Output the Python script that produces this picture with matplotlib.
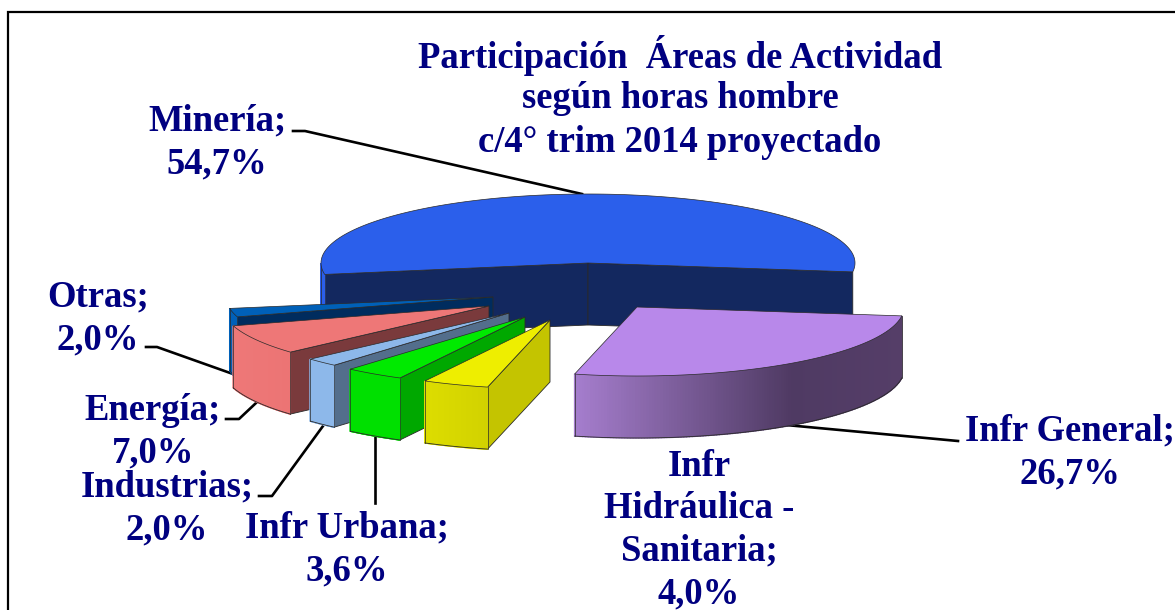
import numpy as np
import matplotlib
matplotlib.use('Agg')
import matplotlib.pyplot as plt
from matplotlib.colors import LinearSegmentedColormap
from matplotlib.patches import Polygon

title_lines = ['Participación  Áreas de Actividad', 'según horas hombre', 'c/4° trim 2014 proyectado']

# clockwise from the Infr General slice
names = ['Infr General', 'Infr Hidráulica - Sanitaria', 'Infr Urbana', 'Industrias', 'Energía', 'Otras', 'Minería']
shares = [26.7, 4.0, 3.6, 2.0, 7.0, 2.0, 54.7]

# styles, same order
apex_x = [637, 550, 525, 509, 489, 493, 588]
apex_y = [307, 320, 317, 313, 306, 297, 263]
top_col = ['#b888ea', '#eeee00', '#00ea00', '#8db8ea', '#ee7777', '#0060b8', '#2b5feb']
wall_col = [['#a67ece', '#7a5c98', '#4f3a63', '#553e68'], ['#dddd00', '#d2d200'], ['#00e000', '#00e000'],
            ['#8db8ea', '#8db8ea'], ['#ee7878', '#ec7474'], ['#0060b8', '#0060b8'], ['#2b5feb', '#2b5feb']]
side_col = ['#553e68', '#c4c400', '#00a800', '#536e8c', '#7a3a3c', '#002c5e', '#13285f']

rx, ry = 267, 69
depth = 62
start = -7.4
navy = '#000080'
edge = '#2a2a2a'

# label text lines with their centres
label_x = [1070, 699, 347, 167, 153, 98, 217]
label_y = [431, 466, 528, 487, 410, 297, 121]
label_breaks = [['Infr General;'], ['Infr', 'Hidráulica -', 'Sanitaria;'], ['Infr Urbana;'], ['Industrias;'],
                ['Energía;'], ['Otras;'], ['Minería;']]
line_step = 42.5

leaders = [[(786, 425), (958, 441)], [(375, 437), (375, 503)], [(323, 426), (272, 496), (259, 496)],
           [(226, 419), (239, 419), (256, 403)], [(146, 347), (157, 347), (233, 374)],
           [(293, 131), (305, 131), (582, 194)]]

fig = plt.figure(figsize=(11.75, 6.10), dpi=100)
ax = fig.add_axes([0, 0, 1, 1])
ax.set_xlim(0, 1175)
ax.set_ylim(610, 0)
ax.axis('off')

ax.plot([8, 8, 1175], [610, 12, 12], color='black', lw=1.6, solid_joinstyle='miter')

for pts in leaders:
    xs, ys = zip(*pts)
    ax.plot(xs, ys, color='black', lw=1.9, zorder=1)


def arc(cx, cy, a1, a2, n=160):
    t = np.radians(np.linspace(a1, a2, n))
    return np.column_stack([cx + rx * np.cos(t), cy - ry * np.sin(t)])


def draw_slice(i, a1, a2, z):
    cx, cy = apex_x[i], apex_y[i]
    cmap = LinearSegmentedColormap.from_list('w', wall_col[i])
    top = arc(cx, cy, a1, a2)
    apex = np.array([cx, cy])

    # cut faces, only the ones turned to the viewer
    for p, seen in ((top[0], np.cos(np.radians(a1)) < 0), (top[-1], np.cos(np.radians(a2)) > 0)):
        if seen:
            face = [apex, p, p + [0, depth], apex + [0, depth]]
            ax.add_patch(Polygon(face, fc=side_col[i], ec=edge, lw=0.6, zorder=z))

    # outer wall only where the rim faces the viewer
    if names[i] == 'Minería':
        wall = arc(cx, cy, a1, -180)
    else:
        wall = arc(cx, cy, a2, a1)
    x0, x1 = wall[:, 0].min(), wall[:, 0].max()
    for k in range(len(wall) - 1):
        pa, pb = wall[k], wall[k + 1]
        c = cmap((0.5 * (pa[0] + pb[0]) - x0) / (x1 - x0))
        ax.add_patch(Polygon([pa, pb, pb + [0, depth], pa + [0, depth]], fc=c, ec=c, lw=1.0, zorder=z + 0.1))
    ax.plot(wall[:, 0], wall[:, 1] + depth, color=edge, lw=0.6, zorder=z + 0.2)
    ax.plot([wall[0, 0]] * 2, [wall[0, 1], wall[0, 1] + depth], color=edge, lw=0.5, zorder=z + 0.2)
    ax.plot([wall[-1, 0]] * 2, [wall[-1, 1], wall[-1, 1] + depth], color=edge, lw=0.5, zorder=z + 0.2)

    ax.add_patch(Polygon(np.vstack([apex, top]), fc=top_col[i], ec=edge, lw=0.5, zorder=z + 0.3))


angles = start - np.cumsum([0] + [s * 3.6 for s in shares])
# back to front
for z, i in enumerate([6, 5, 4, 3, 2, 1, 0]):
    draw_slice(i, angles[i], angles[i + 1], 2 + z)

for k, line in enumerate(title_lines):
    ax.text(680, 56 + 43 * k, line, family='Liberation Serif', weight='bold', size=26.4, color=navy,
            ha='center', va='center', zorder=20)

for i, lines in enumerate(label_breaks):
    rows = lines + [f'{shares[i]:.1f}%'.replace('.', ',')]
    for k, row in enumerate(rows):
        ax.text(label_x[i], label_y[i] + line_step * k, row, family='Liberation Serif', weight='bold', size=26.4,
                color=navy, ha='center', va='center', zorder=20)

fig.savefig('out.png', dpi=100)
